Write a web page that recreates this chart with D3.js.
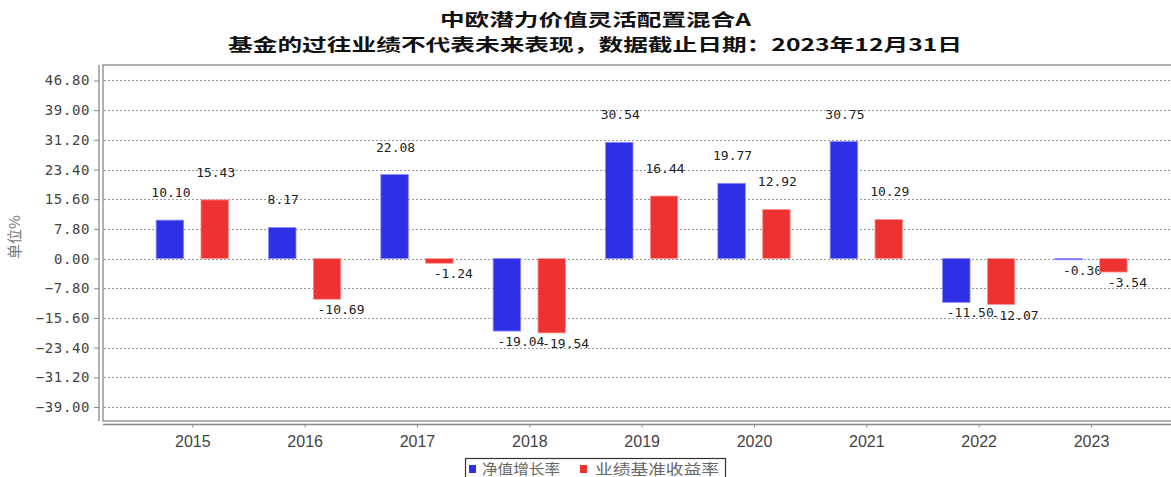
<!DOCTYPE html>
<html>
<head>
<meta charset="utf-8">
<script src="https://cdn.jsdelivr.net/npm/d3@7"></script>
<style>
  html, body { margin: 0; padding: 0; background: #fff; }
  svg { display: block; }
</style>
</head>
<body>
<svg id="chart" width="1171" height="477"></svg>
<script>
// 数据
const years = ['2015', '2016', '2017', '2018', '2019', '2020', '2021', '2022', '2023'];
const navGrowth = [10.10, 8.17, 22.08, -19.04, 30.54, 19.77, 30.75, -11.50, -0.30];
const benchmark = [15.43, -10.69, -1.24, -19.54, 16.44, 12.92, 10.29, -12.07, -3.54];
const yTicks = [46.8, 39.0, 31.2, 23.4, 15.6, 7.8, 0, -7.8, -15.6, -23.4, -31.2, -39.0];
const seriesNames = ['净值增长率', '业绩基准收益率'];
const seriesColors = ['#2f2fe6', '#ee3232'];

const W = 1171, H = 477;
const plot = {left: 103, right: 1171, top: 65, bottom: 421};

const svg = d3.select('#chart');

const x = d3.scalePoint().domain(years).range([192.3, 1091]);
const y = d3.scaleLinear().domain([-42.68, 50.87]).range([plot.bottom, plot.top]);

const barW = 27.5, barOff = 22.4;

// 标题
svg.append('text')
    .attr('x', 440).attr('y', 26)
    .attr('textLength', 311).attr('lengthAdjust', 'spacingAndGlyphs')
    .style('font-family', '"Noto Sans CJK SC", sans-serif')
    .style('font-size', '17px').style('font-weight', 'bold').style('fill', '#111')
    .text('中欧潜力价值灵活配置混合A');

svg.append('text')
    .attr('x', 228).attr('y', 51)
    .attr('textLength', 734).attr('lengthAdjust', 'spacingAndGlyphs')
    .style('font-family', '"Noto Sans CJK SC", sans-serif')
    .style('font-size', '17px').style('font-weight', 'bold').style('fill', '#111')
    .text('基金的过往业绩不代表未来表现，数据截止日期：2023年12月31日');

// 绘图区边框
svg.append('rect')
    .attr('x', plot.left).attr('y', plot.top)
    .attr('width', plot.right - plot.left + 5).attr('height', plot.bottom - plot.top)
    .attr('fill', 'none').attr('stroke', '#888').attr('stroke-width', 1.3);

// 网格线
svg.append('g').selectAll('line').data(yTicks).join('line')
    .attr('x1', plot.left + 1).attr('x2', plot.right)
    .attr('y1', d => Math.round(y(d)) + 0.5).attr('y2', d => Math.round(y(d)) + 0.5)
    .attr('stroke', '#999').attr('stroke-dasharray', '2,2');

// Y轴
const yAxis = d3.axisLeft(y).tickValues(yTicks).tickSize(5).tickPadding(4)
    .tickFormat(d3.format('.2f'));
const gy = svg.append('g').attr('transform', 'translate(99,0)').call(yAxis);
gy.select('.domain').attr('stroke', '#888').attr('stroke-width', 1.3)
    .attr('d', `M0,${plot.top}V${plot.bottom}`);
gy.selectAll('.tick line').attr('stroke', '#888');
gy.selectAll('.tick text')
    .style('font-family', '"DejaVu Sans Mono", monospace')
    .style('font-size', '14px').style('letter-spacing', '0.6px').style('fill', '#444');

svg.append('text')
    .attr('transform', 'translate(20,237) rotate(-90)')
    .attr('text-anchor', 'middle')
    .style('font-family', '"Noto Sans CJK SC", serif')
    .style('font-size', '15px').style('fill', '#777')
    .text('单位%');

// X轴
const xAxis = d3.axisBottom(x).tickSize(3).tickPadding(8);
const gx = svg.append('g').attr('transform', 'translate(0,424.5)').call(xAxis);
gx.select('.domain').attr('stroke', '#888').attr('stroke-width', 1.3)
    .attr('d', `M${plot.left},0H${W}`);
gx.selectAll('.tick line').attr('stroke', '#888');
gx.selectAll('.tick text')
    .style('font-family', '"Liberation Sans", Arial, sans-serif')
    .style('font-size', '16px').style('fill', '#444');

// 柱
const series = [navGrowth, benchmark];
series.forEach((vals, si) => {
    const off = si === 0 ? -barOff : barOff;
    const g = svg.append('g');
    g.selectAll('rect').data(vals).join('rect')
        .attr('x', (d, i) => x(years[i]) + off - barW / 2)
        .attr('y', d => y(Math.max(0, d)))
        .attr('width', barW)
        .attr('height', d => Math.abs(y(d) - y(0)))
        .attr('fill', seriesColors[si])
        .attr('stroke', si === 0 ? '#8a8aff' : '#ff9a9a').attr('stroke-width', 0.8);
    g.selectAll('text').data(vals).join('text')
        .attr('x', (d, i) => x(years[i]) + off + (d < 0 ? 14 : 1))
        .attr('y', d => d < 0 ? y(d) + 15 : y(d) - 23)
        .attr('text-anchor', 'middle')
        .style('font-family', '"DejaVu Sans Mono", monospace')
        .style('font-size', '13px').style('fill', '#222')
        .text(d => d3.format('.2f')(d).replace('−', '-'));
});

// 图例
const leg = svg.append('g');
leg.append('rect').attr('x', 465.5).attr('y', 458.5).attr('width', 260).attr('height', 30)
    .attr('fill', '#fff').attr('stroke', '#333').attr('stroke-width', 1.2);
const legX = [469, 580], legTextX = [482, 595], legLen = [78, 124];
seriesNames.forEach((name, i) => {
    leg.append('rect').attr('x', legX[i]).attr('y', 465).attr('width', 7).attr('height', 8)
        .attr('fill', seriesColors[i]);
    leg.append('text').attr('x', legTextX[i]).attr('y', 474)
        .attr('textLength', legLen[i]).attr('lengthAdjust', 'spacingAndGlyphs')
        .style('font-family', '"Noto Sans CJK SC", sans-serif')
        .style('font-size', '14px').style('fill', '#666')
        .text(name);
});
</script>
</body>
</html>
